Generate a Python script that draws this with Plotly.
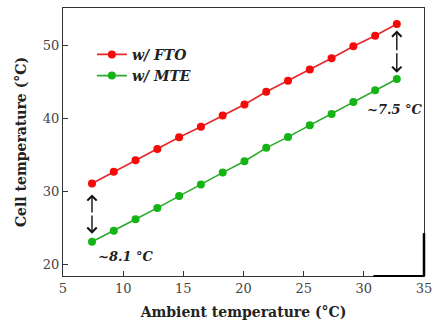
import plotly.graph_objects as go

ambient = [7.41, 9.22, 11.03, 12.84, 14.65, 16.46, 18.27, 20.08, 21.89, 23.70, 25.51, 27.32, 29.13, 30.94, 32.74]
fto = [31.1, 32.7, 34.3, 35.85, 37.45, 38.9, 40.45, 41.95, 43.7, 45.2, 46.75, 48.3, 49.95, 51.4, 53.0]
mte = [23.1, 24.6, 26.2, 27.75, 29.4, 30.95, 32.6, 34.15, 36.0, 37.5, 39.1, 40.65, 42.3, 43.9, 45.45]
series_names = ["w/ FTO", "w/ MTE"]
x_ticks = [5, 10, 15, 20, 25, 30, 35]
y_ticks = [20, 30, 40, 50]
gap_labels = ["~8.1 °C", "~7.5 °C"]

serif = "DejaVu Serif, Liberation Serif, serif"
axis_col = "#333333"

fig = go.Figure()
fig.add_trace(go.Scatter(x=ambient, y=fto, mode="lines+markers",
                         name="<b><i>" + series_names[0] + "</i></b>",
                         line=dict(color="#e8262a", width=1.6),
                         marker=dict(color="#f50a0a", size=8)))
fig.add_trace(go.Scatter(x=ambient, y=mte, mode="lines+markers",
                         name="<b><i>" + series_names[1] + "</i></b>",
                         line=dict(color="#2aaa2a", width=1.6),
                         marker=dict(color="#14b414", size=8)))

# double-headed arrows
for xa, y0, y1 in [(ambient[0], 29.6, 24.2), (ambient[-1], 52.1, 46.3)]:
    for ya in (y0, y1):
        fig.add_annotation(x=xa, y=ya, ax=xa, ay=(y0 + y1) / 2, xref="x", yref="y",
                           axref="x", ayref="y", showarrow=True, arrowhead=4,
                           arrowsize=1.3, arrowwidth=1.4, arrowcolor="#111111", text="")

fig.add_annotation(x=10.2, y=21.1, text="<b><i>" + gap_labels[0] + "</i></b>", showarrow=False,
                   font=dict(family=serif, size=13, color="#222222"))
fig.add_annotation(x=32.6, y=41.2, text="<b><i>" + gap_labels[1] + "</i></b>", showarrow=False,
                   font=dict(family=serif, size=13, color="#222222"))

# scan artifacts on the frame
fig.add_shape(type="line", xref="paper", yref="paper", x0=1, x1=1, y0=0, y1=0.16,
              line=dict(color="black", width=2.5))
fig.add_shape(type="line", xref="paper", yref="paper", x0=0.86, x1=1, y0=0, y1=0,
              line=dict(color="black", width=2))

fig.update_layout(
    width=439, height=325,
    margin=dict(l=63, r=11, t=7, b=49),
    paper_bgcolor="white", plot_bgcolor="white",
    font=dict(family=serif, size=13, color="#333333"),
    legend=dict(x=0.08, y=0.885, xanchor="left", yanchor="top", bgcolor="rgba(0,0,0,0)",
                font=dict(family=serif, size=14, color="#222222"),
                tracegroupgap=0),
    showlegend=True,
)

fig.update_xaxes(range=[5, 35], tickvals=x_ticks, ticks="inside", ticklen=5, tickcolor=axis_col,
                 showline=True, linecolor=axis_col, linewidth=1.2, mirror=True, showgrid=False,
                 zeroline=False, tickfont=dict(size=13, color="#444444"),
                 title=dict(text="<b>Ambient temperature (°C)</b>", font=dict(size=14, color="#222222"),
                            standoff=12))
fig.update_yaxes(range=[18.4, 55.2], tickvals=y_ticks, ticks="inside", ticklen=5, tickcolor=axis_col,
                 showline=True, linecolor=axis_col, linewidth=1.2, mirror=True, showgrid=False,
                 zeroline=False, tickfont=dict(size=13, color="#444444"),
                 title=dict(text="<b>Cell temperature (°C)</b>", font=dict(size=14, color="#222222"),
                            standoff=12))

fig.write_html("out.html")
